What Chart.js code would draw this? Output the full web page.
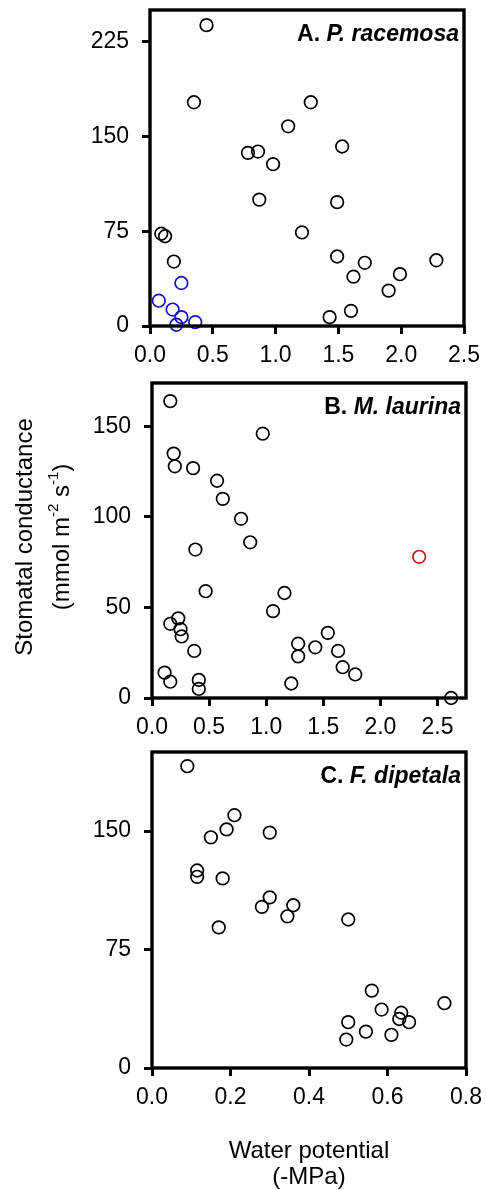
<!DOCTYPE html>
<html>
<head>
<meta charset="utf-8">
<script src="https://cdn.jsdelivr.net/npm/chart.js@4.4.1/dist/chart.umd.min.js"></script>
<style>
  body { margin: 0; background: #fff; }
  #pagina { position: relative; width: 486px; height: 1190px; }
  canvas { position: absolute; left: 0; }
</style>
</head>
<body>
<div id="pagina">
  <canvas id="painelA" width="486" height="370" style="top:0px"></canvas>
  <canvas id="painelB" width="486" height="370" style="top:370px"></canvas>
  <canvas id="painelC" width="486" height="450" style="top:740px"></canvas>
</div>
<script>
// A. P. racemosa
const xA = [0.45, 0.35, 0.78, 0.86, 0.98, 1.10, 1.28, 1.53, 0.87, 1.49, 1.21, 0.09, 0.12, 0.19, 1.49, 1.71, 1.62, 1.99, 1.90, 2.28, 1.60, 1.43];
const yA = [238, 177, 137, 138, 128, 158, 177, 142, 100, 98, 74, 73, 71, 51, 55, 50, 39, 41, 28, 52, 12, 7];
const xAazul = [0.07, 0.25, 0.18, 0.25, 0.21, 0.36];
const yAazul = [20, 34, 13, 7, 1, 3];
const ticksXA = [0, 0.5, 1.0, 1.5, 2.0, 2.5];
const ticksYA = [0, 75, 150, 225];

// B. M. laurina
const xB = [0.16, 0.97, 0.19, 0.20, 0.36, 0.57, 0.62, 0.78, 0.86, 0.38, 0.47, 1.16, 1.06, 0.23, 0.16, 0.25, 0.26, 0.37, 0.11, 0.16, 0.41, 0.41, 1.28, 1.28, 1.43, 1.54, 1.63, 1.67, 1.78, 1.22, 2.62];
const yB = [164, 146, 135, 128, 127, 120, 110, 99, 86, 82, 59, 58, 48, 44, 41, 38, 34, 26, 14, 9, 10, 5, 30, 23, 28, 36, 26, 17, 13, 8, 0];
const xBvermelho = [2.34];
const yBvermelho = [78];
const ticksXB = [0, 0.5, 1.0, 1.5, 2.0, 2.5];
const ticksYB = [0, 50, 100, 150];

// C. F. dipetala
const xC = [0.09, 0.21, 0.19, 0.15, 0.30, 0.115, 0.115, 0.18, 0.30, 0.28, 0.36, 0.345, 0.17, 0.50, 0.56, 0.585, 0.635, 0.63, 0.655, 0.745, 0.50, 0.545, 0.61, 0.495];
const yC = [191, 160, 151, 146, 149, 125, 121, 120, 108, 102, 103, 96, 89, 94, 49, 37, 35, 31, 29, 41, 29, 23, 21, 18];
const ticksXC = [0, 0.2, 0.4, 0.6, 0.8];
const ticksYC = [0, 75, 150];

const fonte = "'Liberation Sans', Arial, sans-serif";

function pontos(xs, ys) {
  return xs.map((x, i) => ({ x: x, y: ys[i] }));
}

function serie(xs, ys, cor) {
  return {
    data: pontos(xs, ys),
    borderColor: cor,
    backgroundColor: 'rgba(0,0,0,0)',
    borderWidth: 1.7,
    pointRadius: 6.3,
    clip: false
  };
}

// caixa preta em volta da area do grafico
const caixa = {
  id: 'caixa',
  afterDatasetsDraw(chart) {
    const a = chart.chartArea;
    const ctx = chart.ctx;
    ctx.save();
    ctx.strokeStyle = '#000';
    ctx.lineWidth = 3.4;
    ctx.strokeRect(a.left, a.top, a.right - a.left, a.bottom - a.top);
    ctx.restore();
  }
};

// rotulo do painel: letra em negrito e especie em negrito italico
const rotulo = {
  id: 'rotulo',
  afterDraw(chart, args, opts) {
    const a = chart.chartArea;
    const ctx = chart.ctx;
    ctx.save();
    ctx.fillStyle = '#000';
    ctx.textBaseline = 'alphabetic';
    ctx.font = 'bold 23px ' + fonte;
    const letra = opts.letra + ' ';
    const w1 = ctx.measureText(letra).width;
    ctx.font = 'italic bold 23px ' + fonte;
    const w2 = ctx.measureText(opts.especie).width;
    const xFim = a.right - 5;
    const yBase = a.top + 31;
    ctx.fillText(opts.especie, xFim - w2, yBase);
    ctx.font = 'bold 23px ' + fonte;
    ctx.fillText(letra, xFim - w2 - w1, yBase);
    ctx.restore();
  }
};

// titulo do eixo y com expoentes (so no painel B)
const tituloY = {
  id: 'tituloY',
  afterDraw(chart, args, opts) {
    if (!opts.mostrar) return;
    const ctx = chart.ctx;
    ctx.save();
    ctx.fillStyle = '#000';
    ctx.textBaseline = 'middle';
    ctx.translate(25, 167);
    ctx.rotate(-Math.PI / 2);
    ctx.font = '24px ' + fonte;
    ctx.textAlign = 'center';
    ctx.fillText('Stomatal conductance', 0, 0);
    // segunda linha em pedacos
    const partes = [
      { t: '(mmol m', sup: false },
      { t: '-2', sup: true },
      { t: ' s', sup: false },
      { t: '-1', sup: true },
      { t: ')', sup: false }
    ];
    let total = 0;
    partes.forEach(p => {
      ctx.font = (p.sup ? '15px ' : '24px ') + fonte;
      p.w = ctx.measureText(p.t).width;
      total += p.w;
    });
    ctx.textAlign = 'left';
    let x = -total / 2;
    partes.forEach(p => {
      ctx.font = (p.sup ? '15px ' : '24px ') + fonte;
      ctx.fillText(p.t, x, 37 + (p.sup ? -8 : 0));
      x += p.w;
    });
    ctx.restore();
  }
};

function criarPainel(id, cfg) {
  const canvas = document.getElementById(id);
  const H = canvas.height;
  return new Chart(canvas.getContext('2d'), {
    type: 'scatter',
    data: { datasets: cfg.series },
    plugins: [caixa, rotulo, tituloY],
    options: {
      responsive: false,
      animation: false,
      events: [],
      layout: {
        padding: {
          left: 0,
          right: 486 - cfg.direita,
          top: cfg.topo,
          bottom: 0
        }
      },
      scales: {
        x: {
          type: 'linear',
          min: 0,
          max: cfg.xMax,
          afterBuildTicks: s => { s.ticks = cfg.ticksX.map(v => ({ value: v })); },
          afterFit: s => {
            s.height = H - cfg.base;
            s.paddingLeft = 0;
            s.paddingRight = 0;
          },
          grid: {
            drawOnChartArea: false,
            drawTicks: true,
            tickLength: 8,
            tickWidth: 3,
            tickColor: '#000'
          },
          border: { display: false },
          ticks: {
            color: '#000',
            padding: 8,
            maxRotation: 0,
            autoSkip: false,
            font: { family: fonte, size: 23 },
            callback: v => Number(v).toFixed(1)
          },
          title: {
            display: !!cfg.tituloX,
            text: cfg.tituloX || '',
            color: '#000',
            padding: 0,
            font: { family: fonte, size: 24, lineHeight: 1.08 }
          }
        },
        y: {
          type: 'linear',
          min: 0,
          max: cfg.yMax,
          afterBuildTicks: s => { s.ticks = cfg.ticksY.map(v => ({ value: v })); },
          afterFit: s => {
            s.width = cfg.esquerda;
            s.paddingTop = 0;
            s.paddingBottom = 0;
          },
          grid: {
            drawOnChartArea: false,
            drawTicks: true,
            tickLength: 8,
            tickWidth: 3,
            tickColor: '#000'
          },
          border: { display: false },
          ticks: {
            color: '#000',
            padding: 13,
            autoSkip: false,
            font: { family: fonte, size: 23 },
            callback: v => String(v)
          }
        }
      },
      plugins: {
        legend: { display: false },
        tooltip: { enabled: false },
        rotulo: { letra: cfg.letra, especie: cfg.especie },
        tituloY: { mostrar: !!cfg.comTituloY }
      }
    }
  });
}

criarPainel('painelA', {
  series: [serie(xA, yA, '#000'), serie(xAazul, yAazul, '#1010c8')],
  xMax: 2.5, yMax: 250,
  ticksX: ticksXA, ticksY: ticksYA,
  esquerda: 150, direita: 464, topo: 10, base: 326,
  letra: 'A.', especie: 'P. racemosa'
});

criarPainel('painelB', {
  series: [serie(xB, yB, '#000'), serie(xBvermelho, yBvermelho, '#d01010')],
  xMax: 2.75, yMax: 174,
  ticksX: ticksXB, ticksY: ticksYB,
  esquerda: 152, direita: 466, topo: 13, base: 328,
  letra: 'B.', especie: 'M. laurina',
  comTituloY: true
});

criarPainel('painelC', {
  series: [serie(xC, yC, '#000')],
  xMax: 0.8, yMax: 200,
  ticksX: ticksXC, ticksY: ticksYC,
  esquerda: 152, direita: 466, topo: 12, base: 328,
  letra: 'C.', especie: 'F. dipetala',
  tituloX: ['Water potential', '(-MPa)']
});
</script>
</body>
</html>
